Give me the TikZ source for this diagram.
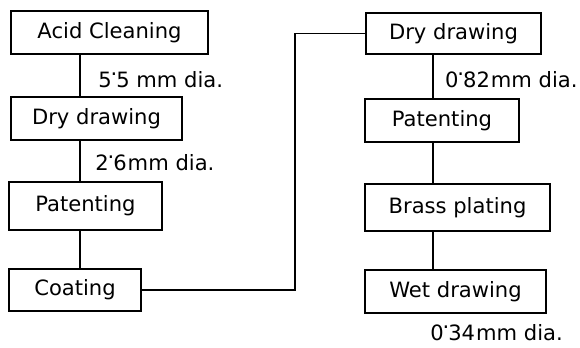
\documentclass[tikz,border=0pt]{standalone}
\usepackage{fontspec}
\setmainfont{DejaVu Sans}
\usetikzlibrary{positioning, calc}
\newcommand{\raisedpt}{\kern-0.05em\raisebox{1ex}{.}\kern-0.05em}

\begin{document}
\begin{tikzpicture}[
    stage/.style={draw=black, line width=1.5pt, minimum height=1.075cm, inner sep=0pt, font=\fontsize{15}{18}\selectfont},
    link/.style={line width=1.2pt, black},
    dia/.style={anchor=base west, inner sep=0pt, font=\fontsize{15}{18}\selectfont},
]
\useasboundingbox (0,0) rectangle (14.5,-8.675);

% ===== Left column =====
\node[stage, minimum width=4.925cm] (acid) at (2.7375,-0.8125) {Acid Cleaning};
\node[stage, minimum width=4.275cm] (dry1) at (2.4125,-2.9625) {Dry drawing};
\node[stage, minimum width=3.825cm, minimum height=1.2cm] (pat1) at (2.1375,-5.15) {Patenting};
\node[stage, minimum width=3.3cm, minimum height=1.05cm] (coat) at (1.875,-7.25) {Coating};

% trunk of the left column
\coordinate (ltrunk) at (2.0,0);
\draw[link] (acid.south -| ltrunk) -- (dry1.north -| ltrunk);
\draw[link] (dry1.south -| ltrunk) -- (pat1.north -| ltrunk);
\draw[link] (pat1.south -| ltrunk) -- (coat.north -| ltrunk);

% diameters
\node[dia] (d55) at (2.45,-2.175) {5\raisedpt5 mm dia.};
\node[dia] (d26) at (2.375,-4.25) {2\raisedpt6\kern0.05em mm dia.};

% ===== Right column =====
\node[stage, minimum width=4.375cm, minimum height=1.025cm] (dry2) at (11.3375,-0.8375) {Dry drawing};
\node[stage, minimum width=3.85cm] (pat2) at (11.05,-3.0125) {Patenting};
\node[stage, minimum width=4.625cm, minimum height=1.175cm] (brass) at (11.4375,-5.1875) {Brass plating};
\node[stage, minimum width=4.525cm] (wet) at (11.3875,-7.2875) {Wet drawing};

% trunk of the right column
\coordinate (rtrunk) at (10.825,0);
\draw[link] (dry2.south -| rtrunk) -- (pat2.north -| rtrunk);
\draw[link] (pat2.south -| rtrunk) -- (brass.north -| rtrunk);
\draw[link] (brass.south -| rtrunk) -- (wet.north -| rtrunk);

% diameters
\node[dia] (d082) at (11.12,-2.18) {0\raisedpt82\kern0.05em mm dia.};
\node[dia] (d034) at (10.75,-8.5) {0\raisedpt34\kern0.05em mm dia.};

% ===== Coating -> Dry drawing =====
\coordinate (bend) at (7.375,0);
\draw[link] (coat.east) -- (coat.east -| bend) -- (bend |- dry2.west) -- (dry2.west);

\end{tikzpicture}
\end{document}
